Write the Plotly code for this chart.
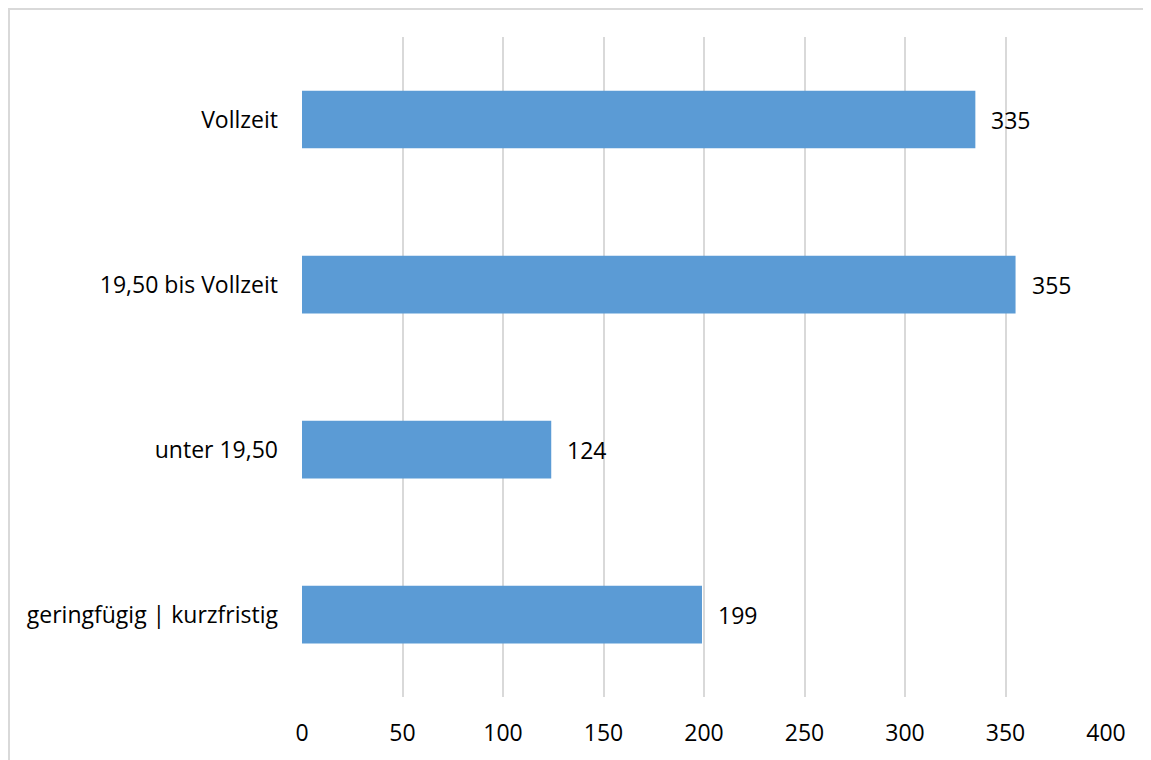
import plotly.graph_objects as go

categories = ["Vollzeit", "19,50 bis Vollzeit", "unter 19,50", "geringfügig | kurzfristig"]
values = [335, 355, 124, 199]
tick_vals = [0, 50, 100, 150, 200, 250, 300, 350, 400]

BAR_COLOR = "#5B9BD5"
GRID = "#d9d9d9"
FONT = "Open Sans"
FS = 23

fig = go.Figure()
fig.add_trace(go.Bar(
    x=values, y=categories, orientation="h",
    marker=dict(color=BAR_COLOR, line=dict(width=0)),
    hoverinfo="skip",
))

for c, v in zip(categories, values):
    fig.add_annotation(x=v, y=c, text=str(v), showarrow=False,
                       xanchor="left", yanchor="middle", xshift=14,
                       font=dict(family=FONT, size=FS, color="#000000"))

# outer chart border (open on right and bottom as in reference)
fig.add_shape(type="rect", xref="paper", yref="paper",
              x0=-0.3644, y0=-0.2, x1=1.1, y1=1.0424,
              line=dict(color="#d9d9d9", width=2), layer="below")

fig.update_layout(
    width=1143, height=752,
    margin=dict(l=294, r=45, t=29, b=63),
    paper_bgcolor="white", plot_bgcolor="white",
    bargap=0.65, showlegend=False,
    font=dict(family=FONT, size=FS, color="#000000"),
    xaxis=dict(range=[0, 400], tickvals=tick_vals, showgrid=True,
               gridcolor=GRID, gridwidth=2, zeroline=False,
               showline=False, ticks="", ticklabelstandoff=20,
               tickfont=dict(family=FONT, size=FS, color="#000000")),
    yaxis=dict(categoryorder="array", categoryarray=categories[::-1],
               showgrid=False, zeroline=False, showline=False, ticks="",
               ticklabelstandoff=23,
               tickfont=dict(family=FONT, size=FS, color="#000000")),
)

fig.write_html("out.html")
